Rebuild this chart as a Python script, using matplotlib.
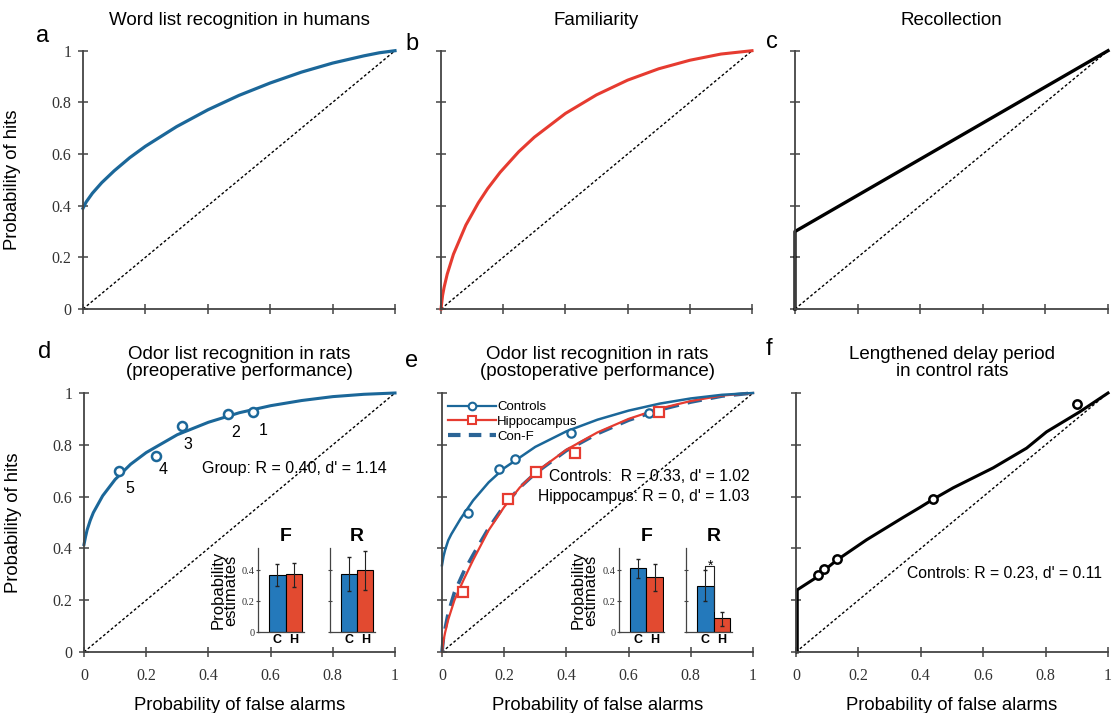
import matplotlib
matplotlib.use("Agg")
import matplotlib.pyplot as plt
from matplotlib.lines import Line2D

# %% Data
# ----------------------------------------------------------------------
# a: word list recognition in humans
fa_a = [0, 0.01, 0.03, 0.06, 0.1, 0.15, 0.2, 0.3, 0.4, 0.5, 0.6, 0.7, 0.8, 0.9, 0.95, 1.0]
hit_a = [0.39, 0.414, 0.448, 0.489, 0.535, 0.586, 0.630, 0.706, 0.771, 0.827, 0.875, 0.917, 0.952, 0.980, 0.992, 1.0]

# b: familiarity
fa_b = [0, 0.005, 0.01, 0.02, 0.04, 0.08, 0.12, 0.15, 0.19, 0.25, 0.3, 0.4, 0.5, 0.6, 0.7, 0.8, 0.9, 1.0]
hit_b = [0, 0.052, 0.084, 0.135, 0.212, 0.325, 0.411, 0.466, 0.529, 0.609, 0.665, 0.757, 0.829, 0.886, 0.930, 0.963, 0.987, 1.0]

# c: recollection
fa_c = [0, 0, 1]
hit_c = [0, 0.3, 1]

# d: preoperative
fa_d = [0, 0.005, 0.01, 0.02, 0.03, 0.06, 0.1, 0.15, 0.2, 0.3, 0.4, 0.5, 0.6, 0.7, 0.8, 0.9, 1.0]
hit_d = [0.415, 0.445, 0.471, 0.508, 0.538, 0.603, 0.666, 0.725, 0.770, 0.839, 0.887, 0.924, 0.951, 0.971, 0.986, 0.995, 1.0]
fa_pts_d = [0.111, 0.233, 0.315, 0.463, 0.545]
hit_pts_d = [0.70, 0.757, 0.871, 0.92, 0.926]
pt_labels_d = ["5", "4", "3", "2", "1"]
lab_x_d = [0.148, 0.255, 0.335, 0.489, 0.577]
lab_y_d = [0.632, 0.705, 0.802, 0.847, 0.854]

# e: postoperative
fa_ctrl = [0, 0.005, 0.01, 0.02, 0.03, 0.06, 0.1, 0.15, 0.2, 0.3, 0.4, 0.5, 0.6, 0.7, 0.8, 0.9, 1.0]
hit_ctrl = [0.335, 0.37, 0.394, 0.431, 0.455, 0.515, 0.585, 0.655, 0.71, 0.792, 0.852, 0.897, 0.932, 0.959, 0.979, 0.993, 1.0]
fa_hip = [0, 0.005, 0.01, 0.02, 0.04, 0.07, 0.1, 0.15, 0.2, 0.25, 0.3, 0.4, 0.5, 0.6, 0.7, 0.8, 0.9, 1.0]
hit_hip = [0, 0.045, 0.075, 0.125, 0.2, 0.28, 0.355, 0.47, 0.56, 0.635, 0.693, 0.781, 0.848, 0.9, 0.94, 0.969, 0.99, 1.0]
hit_conf = [0, 0.06, 0.09, 0.15, 0.23, 0.31, 0.375, 0.478, 0.565, 0.635, 0.69, 0.778, 0.843, 0.895, 0.935, 0.965, 0.988, 1.0]
fa_pts_ctrl = [0.084, 0.183, 0.236, 0.416, 0.665]
hit_pts_ctrl = [0.536, 0.706, 0.747, 0.845, 0.922]
fa_pts_hip = [0.069, 0.212, 0.302, 0.428, 0.697]
hit_pts_hip = [0.232, 0.59, 0.694, 0.77, 0.925]

# f: lengthened delay
fa_f = [0.004, 0.004, 0.072, 0.088, 0.13, 0.226, 0.344, 0.397, 0.44, 0.504, 0.632, 0.739, 0.803, 0.909, 1.0]
hit_f = [0, 0.24, 0.293, 0.313, 0.354, 0.433, 0.52, 0.558, 0.59, 0.634, 0.711, 0.787, 0.85, 0.927, 1.0]
fa_pts_f = [0.072, 0.09, 0.13, 0.438, 0.90]
hit_pts_f = [0.297, 0.321, 0.36, 0.59, 0.959]

# inset bar estimates (C = controls, H = hippocampus)
groups = ["C", "H"]
d_F = [0.372, 0.376]; d_F_lo = [0.30, 0.29]; d_F_hi = [0.44, 0.45]
d_R = [0.38, 0.406]; d_R_lo = [0.265, 0.273]; d_R_hi = [0.49, 0.527]
e_F = [0.415, 0.355]; e_F_lo = [0.35, 0.27]; e_F_hi = [0.473, 0.44]
e_R = [0.30, 0.09]; e_R_lo = [0.20, 0.04]; e_R_hi = [0.40, 0.13]

ticks = [0, 0.2, 0.4, 0.6, 0.8, 1]
tick_labels = ["0", "0.2", "0.4", "0.6", "0.8", "1"]

# %% Style
# ----------------------------------------------------------------------
sans = "Liberation Sans"
serif = "Liberation Serif"
blue = "#1b6799"
red = "#e63b30"
bar_blue = "#2479bb"
bar_red = "#e24a30"
axcol = "#444444"

W, H = 1112, 713
fig = plt.figure(figsize=(W / 100, H / 100), dpi=100)


def px_axes(x0, y0, x1, y1):
    # axes from pixel box (left, top, right, bottom)
    return fig.add_axes([x0 / W, 1 - y1 / H, (x1 - x0) / W, (y1 - y0) / H])


def style_roc(ax, xlab=False, ylab=False):
    ax.set_xlim(0, 1)
    ax.set_ylim(0, 1)
    for s in ["top", "right"]:
        ax.spines[s].set_visible(False)
    for s in ["left", "bottom"]:
        ax.spines[s].set_color(axcol)
        ax.spines[s].set_linewidth(1.3)
    ax.set_xticks(ticks)
    ax.set_yticks(ticks)
    ax.tick_params(direction="inout", length=7, width=1.1, color=axcol)
    ax.tick_params(axis="x", pad=8)
    ax.tick_params(axis="y", pad=5)
    if xlab:
        ax.set_xticklabels(tick_labels, fontfamily=serif, fontsize=11.5, color="#333333")
    else:
        ax.set_xticklabels([])
    if ylab:
        ax.set_yticklabels(tick_labels, fontfamily=serif, fontsize=11.5, color="#333333")
    else:
        ax.set_yticklabels([])
    ax.plot([0, 1], [0, 1], color="black", lw=1, dashes=(2, 1.6), clip_on=False)


def title(ax, txt):
    ax.text(0.5, 1.115, txt, transform=ax.transAxes, ha="center", va="center",
            fontfamily=sans, fontsize=13.5, linespacing=1.0)


def letter(x, y, s):
    fig.text(x / W, 1 - y / H, s, fontfamily=sans, fontsize=17, va="baseline", ha="left")


def inset(x0, vals, lo, hi, with_labels, ttl):
    ia = px_axes(x0, 548, x0 + 45.4, 632.3)
    xs = [0, 1]
    yerr = [[v - l for v, l in zip(vals, lo)], [h - v for v, h in zip(vals, hi)]]
    ia.bar(xs, vals, width=1, color=[bar_blue, bar_red], edgecolor="black", linewidth=0.8)
    ia.errorbar(xs, vals, yerr=yerr, fmt="none", ecolor="#222222", elinewidth=0.8, capsize=1.2)
    ia.set_xlim(-1.17, 1.6)
    ia.set_ylim(0, 0.545)
    for s in ["top", "right"]:
        ia.spines[s].set_visible(False)
    for s in ["left", "bottom"]:
        ia.spines[s].set_color(axcol)
        ia.spines[s].set_linewidth(0.9)
    ia.set_xticks(xs)
    ia.set_xticklabels(groups, fontfamily=sans, fontweight="bold", fontsize=9)
    ia.tick_params(axis="x", length=0, pad=1)
    ia.set_yticks([0, 0.2, 0.4])
    ia.tick_params(axis="y", direction="inout", length=3, width=0.8, color=axcol, pad=1)
    if with_labels:
        ia.set_yticklabels(["0", "0.2", "0.4"], fontfamily=serif, fontsize=7.5, color="#333333")
        ia.set_ylabel("Probability\nestimates", fontfamily=sans, fontsize=12, linespacing=0.8)
        ia.yaxis.set_label_coords(-0.45, 0.5)
    else:
        ia.set_yticklabels([])
    ia.text(0.5, 1.03, ttl, transform=ia.get_xaxis_transform(), ha="center", va="bottom",
            fontfamily=sans, fontweight="bold", fontsize=14)
    return ia


# %% Top row
# ----------------------------------------------------------------------
ax_a = px_axes(83, 50.7, 395, 309)
style_roc(ax_a, ylab=True)
ax_a.plot(fa_a, hit_a, color=blue, lw=2.3, clip_on=False)
title(ax_a, "Word list recognition in humans")
ax_a.set_ylabel("Probability of hits", fontfamily=sans, fontsize=13.3)
ax_a.yaxis.set_label_coords(-0.2, 0.5)

ax_b = px_axes(441, 50.7, 752, 309)
style_roc(ax_b)
ax_b.plot(fa_b, hit_b, color=red, lw=2.2, clip_on=False)
title(ax_b, "Familiarity")

ax_c = px_axes(795, 50.7, 1108, 309)
style_roc(ax_c)
ax_c.plot(fa_c, hit_c, color="black", lw=2.4, clip_on=False)
title(ax_c, "Recollection")

# %% Bottom row
# ----------------------------------------------------------------------
ax_d = px_axes(84, 393, 395, 652)
style_roc(ax_d, xlab=True, ylab=True)
ax_d.plot(fa_d, hit_d, color=blue, lw=2.2, clip_on=False)
ax_d.plot(fa_pts_d, hit_pts_d, ls="none", marker="o", ms=6.5, mfc="white", mec=blue, mew=1.8)
for x, y, s in zip(lab_x_d, lab_y_d, pt_labels_d):
    ax_d.text(x, y, s, ha="center", va="center", fontfamily=sans, fontsize=11.5)
ax_d.text(0.378, 0.709, "Group: R = 0.40, d' = 1.14", ha="left", va="center",
          fontfamily=sans, fontsize=11.5)
title(ax_d, "Odor list recognition in rats\n(preoperative performance)")
ax_d.set_ylabel("Probability of hits", fontfamily=sans, fontsize=13.3)
ax_d.yaxis.set_label_coords(-0.2, 0.5)

ax_e = px_axes(442, 393, 753, 652)
style_roc(ax_e, xlab=True)
ax_e.plot(fa_hip, hit_conf, color="#2b6496", lw=2.6, dashes=(4, 2.5), clip_on=False)
ax_e.plot(fa_hip, hit_hip, color=red, lw=1.6, clip_on=False)
ax_e.plot(fa_ctrl, hit_ctrl, color=blue, lw=1.8, clip_on=False)
ax_e.plot(fa_pts_ctrl, hit_pts_ctrl, ls="none", marker="o", ms=6, mfc="white", mec=blue, mew=1.6)
ax_e.plot(fa_pts_hip, hit_pts_hip, ls="none", marker="s", ms=6.5, mfc="white", mec=red, mew=1.6)
ax_e.text(0.99, 0.677, "Controls:  R = 0.33, d' = 1.02", ha="right", va="center",
          fontfamily=sans, fontsize=11.3)
ax_e.text(0.99, 0.60, "Hippocampus: R = 0, d' = 1.03", ha="right", va="center",
          fontfamily=sans, fontsize=11.3)
title(ax_e, "Odor list recognition in rats\n(postoperative performance)")
handles = [
    Line2D([], [], color=blue, lw=1.6, marker="o", ms=5.5, mfc="white", mec=blue, mew=1.5),
    Line2D([], [], color=red, lw=1.6, marker="s", ms=6, mfc="white", mec=red, mew=1.5),
    Line2D([], [], color="#2b6496", lw=3, dashes=(3, 2)),
]
leg = ax_e.legend(handles, ["Controls", "Hippocampus", "Con-F"], loc="upper left",
                  bbox_to_anchor=(-0.005, 1.0), frameon=False, handlelength=3.6,
                  handletextpad=0.1, labelspacing=0.2, borderaxespad=0.2,
                  prop={"family": sans, "size": 9.5})

ax_f = px_axes(796, 393, 1108, 652)
style_roc(ax_f, xlab=True)
ax_f.plot(fa_f, hit_f, color="black", lw=2.2, clip_on=False)
ax_f.plot(fa_pts_f, hit_pts_f, ls="none", marker="o", ms=6, mfc="white", mec="black", mew=1.8)
ax_f.text(0.355, 0.304, "Controls: R = 0.23, d' = 0.11", ha="left", va="center",
          fontfamily=sans, fontsize=11.3)
title(ax_f, "Lengthened delay period\nin control rats")

for ax in [ax_d, ax_e, ax_f]:
    ax.set_xlabel("Probability of false alarms", fontfamily=sans, fontsize=13.3)
    ax.xaxis.set_label_coords(0.5, -0.173)

# %% Insets
# ----------------------------------------------------------------------
inset(258.3, d_F, d_F_lo, d_F_hi, True, "F")
inset(329.7, d_R, d_R_lo, d_R_hi, False, "R")
inset(619.0, e_F, e_F_lo, e_F_hi, True, "F")
ir = inset(686.3, e_R, e_R_lo, e_R_hi, False, "R")
# significance bracket
ir.plot([0, 0, 0.55, 0.55], [0.40, 0.43, 0.43, 0.14], color="#222222", lw=0.8)
ir.text(0.29, 0.43, "*", ha="center", va="center", fontfamily=sans, fontsize=10)

# %% Panel letters
letter(36, 41.7, "a")
letter(405, 50, "b")
letter(766, 48.3, "c")
letter(38, 358.3, "d")
letter(405, 366.7, "e")
letter(766, 355, "f")

fig.savefig("out.png", dpi=100)
